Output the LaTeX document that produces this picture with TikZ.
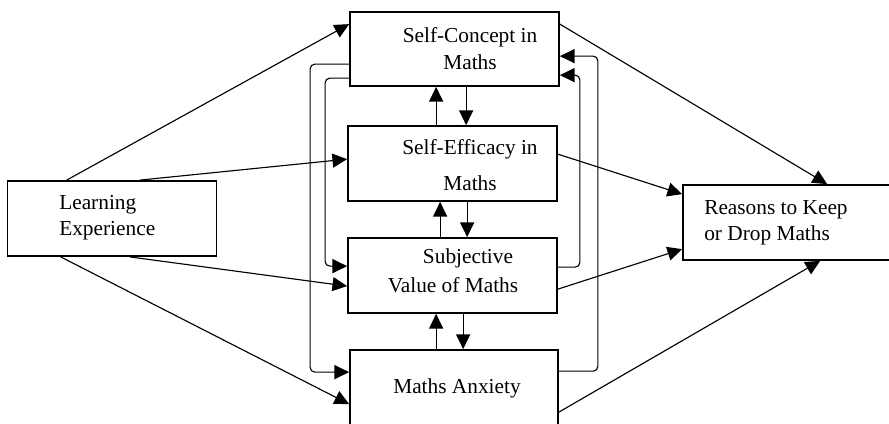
\documentclass[tikz,border=0pt]{standalone}
\usepackage{fontspec}
\setmainfont{Liberation Serif}
\usetikzlibrary{arrows.meta,calc}
\tikzset{
  box/.style={draw, line width=1.3pt, inner sep=0pt, minimum width=156.75pt, minimum height=56.25pt},
  lbl/.style={inner sep=0pt, font=\fontsize{16}{19.5}\selectfont},
  link/.style={line width=0.85pt, -{Triangle[length=11pt,width=10.5pt]}},
  loop/.style={link, rounded corners=3.5pt}
}
\begin{document}
\begin{tikzpicture}[x=0.75pt, y=-0.75pt]
\useasboundingbox (0,0) rectangle (889,424);

% boxes
\node (le) [box] at (112,218.5) {};
\node (sc) [box, minimum height=55.5pt] at (454.5,49) {};
\node (se) [box] at (452.5,163.5) {};
\node (sv) [box] at (452.5,275.5) {};
\node (ma) [box, minimum width=156pt, minimum height=75pt] at (454,400) {};
\node (rk) [box, minimum width=162.75pt] at (791.5,222.5) {};

% labels
\node (let) [lbl, align=left, anchor=west] at (59,217.5) {Learning\\Experience};
\node (sct) [lbl, align=center, font=\fontsize{16}{20.25}\selectfont] at (470,48.5) {Self-Concept in\\Maths};
\node (set) [lbl, align=center, font=\fontsize{16}{27}\selectfont] at (470,165) {Self-Efficacy in\\Maths};
\node (svt1) [lbl] at (468,258) {Subjective};
\node (svt2) [lbl] at (453,285) {Value of Maths};
\node (mat) [lbl] at (457,388) {Maths Anxiety};
\node (rkt) [lbl, align=left, anchor=west] at (704,222.5) {Reasons to Keep\\or Drop Maths};

% learning experience to the four constructs
\draw[link] ($(le.north west)+(60,0)$) -- ($(sc.north west)+(0,13)$);
\draw[link] ($(le.north west)+(133,0)$) -- ($(se.north west)+(0,34)$);
\draw[link] ($(le.south west)+(123,0)$) -- ($(sv.north west)+(0,49)$);
\draw[link] ($(le.south west)+(54,0)$) -- ($(ma.north west)+(0,55)$);

% constructs to reasons
\draw[link] ($(sc.north east)+(0,13)$) -- ($(rk.north west)+(145,0)$);
\draw[link] ($(se.north east)+(0,29)$) -- ($(rk.north west)+(0,10)$);
\draw[link] ($(sv.north east)+(0,52)$) -- ($(rk.north west)+(0,65)$);
\draw[link] ($(ma.north east)+(0,63)$) -- ($(rk.south west)+(138,0)$);

% reciprocal links between neighbouring constructs
\draw[link] ($(se.north west)+(89,0)$) coordinate (u1) -- (u1 |- sc.south);
\draw[link] ($(sc.south west)+(117,0)$) coordinate (d1) -- (d1 |- se.north);
\draw[link] ($(sv.north west)+(93,0)$) coordinate (u2) -- (u2 |- se.south);
\draw[link] ($(se.south west)+(120,0)$) coordinate (d2) -- (d2 |- sv.north);
\draw[link] ($(ma.north west)+(87,0)$) coordinate (u3) -- (u3 |- sv.south);
\draw[link] ($(sv.south west)+(116,0)$) coordinate (d3) -- (d3 |- ma.north);

% feedback loops on the left
\draw[loop] ($(sc.north west)+(0,53)$) -- ++(-39,0) |- ($(ma.north west)+(0,23)$);
\draw[loop] ($(sc.north west)+(0,67)$) -- ++(-24,0) |- ($(sv.north west)+(0,29)$);

% feedback loops on the right
\draw[loop] ($(sv.north east)+(0,30)$) -- ++(22,0) |- ($(sc.north east)+(0,64)$);
\draw[loop] ($(ma.north east)+(0,22)$) -- ++(39,0) |- ($(sc.north east)+(0,45)$);
\end{tikzpicture}
\end{document}
